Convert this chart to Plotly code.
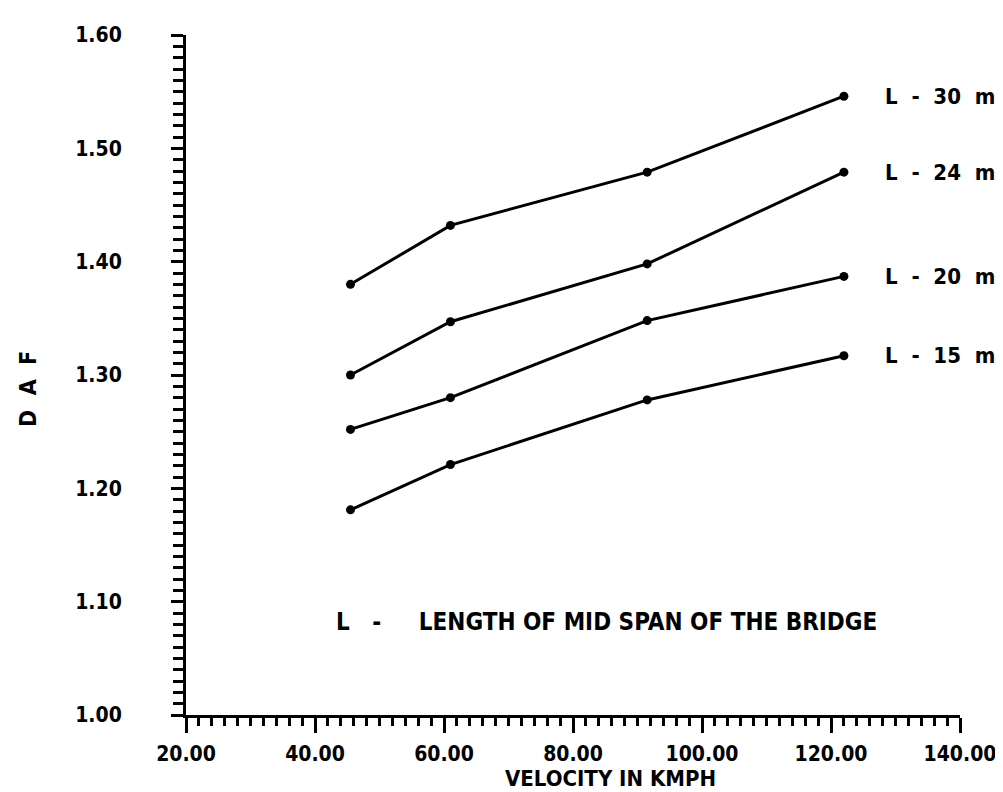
import plotly.graph_objects as go

# Data
velocity = [45.5, 61, 91.5, 122]
daf_L30 = [1.38, 1.432, 1.479, 1.546]
daf_L24 = [1.30, 1.347, 1.398, 1.479]
daf_L20 = [1.252, 1.28, 1.348, 1.387]
daf_L15 = [1.181, 1.221, 1.278, 1.317]
series_names = ["L - 30 m", "L - 24 m", "L - 20 m", "L - 15 m"]
series_values = [daf_L30, daf_L24, daf_L20, daf_L15]

x_ticks = [20, 40, 60, 80, 100, 120, 140]
y_ticks = [1.00, 1.10, 1.20, 1.30, 1.40, 1.50, 1.60]

FONT = "DejaVu Sans Condensed, DejaVu Sans, sans-serif"

fig = go.Figure()
for name, vals in zip(series_names, series_values):
    fig.add_trace(go.Scatter(
        x=velocity, y=vals, mode="lines+markers", name=name,
        line=dict(color="black", width=3),
        marker=dict(color="black", size=9),
        showlegend=False,
    ))
    fig.add_annotation(
        x=128, y=vals[-1], xref="x", yref="y",
        text=name.replace(" ", "\u00a0\u00a0"),
        showarrow=False, xanchor="left", yanchor="middle",
        font=dict(family=FONT, size=22, color="black", weight="bold"),
    )

fig.add_annotation(
    x=43.0, y=1.082, xref="x", yref="y",
    text="L\u00a0\u00a0\u00a0-\u00a0\u00a0\u00a0\u00a0\u00a0LENGTH OF MID SPAN OF THE BRIDGE",
    showarrow=False, xanchor="left", yanchor="middle",
    font=dict(family=FONT, size=24, color="black", weight="bold"),
)
fig.add_annotation(
    x=0.549, y=-0.093, xref="paper", yref="paper",
    text="VELOCITY IN KMPH", showarrow=False,
    xanchor="center", yanchor="middle",
    font=dict(family=FONT, size=22, color="black", weight="bold"),
)
fig.add_annotation(
    x=-0.205, y=0.48, xref="paper", yref="paper",
    text="D\u00a0\u00a0A\u00a0\u00a0F", showarrow=False, textangle=-90,
    xanchor="center", yanchor="middle",
    font=dict(family=FONT, size=23, color="black", weight="bold"),
)

tickfont = dict(family=FONT, size=21, color="black", weight="bold")

fig.update_layout(
    width=1003, height=792,
    margin=dict(l=178, r=51, t=27, b=85),
    paper_bgcolor="white", plot_bgcolor="white",
    xaxis=dict(
        range=[20, 140], tickvals=x_ticks, tickformat=".2f",
        showline=True, linecolor="black", linewidth=3,
        ticks="outside", ticklen=15, tickwidth=3, tickcolor="black",
        minor=dict(dtick=2, ticks="outside", ticklen=8, tickwidth=2.5, tickcolor="black", showgrid=False),
        showgrid=False, zeroline=False, tickfont=tickfont,
        ticklabelstandoff=3,
    ),
    yaxis=dict(
        range=[1.0, 1.6], tickvals=y_ticks, tickformat=".2f",
        showline=True, linecolor="black", linewidth=3,
        ticks="outside", ticklen=12, tickwidth=2.5, tickcolor="black",
        minor=dict(dtick=0.01, ticks="outside", ticklen=10, tickwidth=2.5, tickcolor="black", showgrid=False),
        showgrid=False, zeroline=False, tickfont=tickfont,
        ticklabelstandoff=45,
    ),
)

fig.write_html("out.html")
